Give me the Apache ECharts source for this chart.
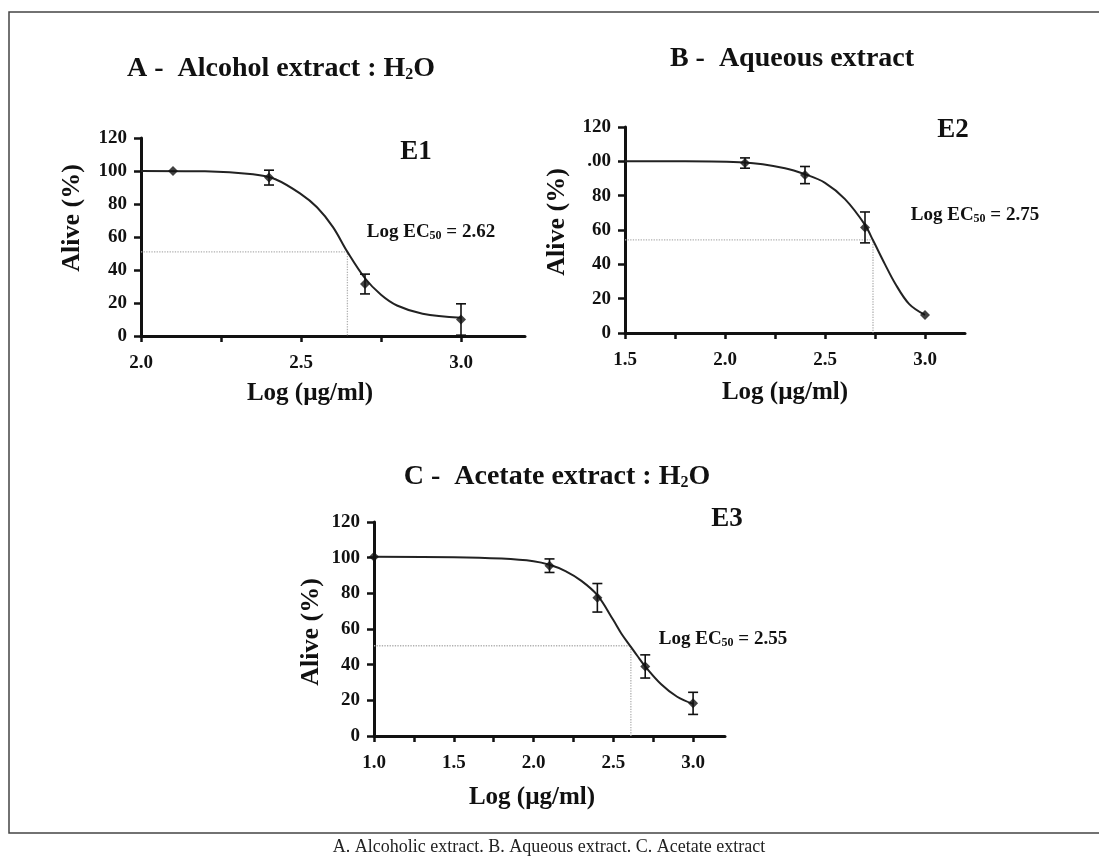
<!DOCTYPE html>
<html>
<head>
<meta charset="utf-8">
<script src="https://cdn.jsdelivr.net/npm/echarts@6/dist/echarts.min.js"></script>
<style>
  html, body { margin: 0; padding: 0; background: #fff; }
  #main { width: 1099px; height: 859px; }
</style>
</head>
<body>
<div id="main"></div>
<script>
// 数据
var xA = [2.1, 2.4, 2.7, 3.0];
var yA = [100, 96, 31.5, 10];
var errA = [0, 4.5, 6, 9.5];
var curveA = [[2.0, 100], [2.2, 99.8], [2.35, 98], [2.42, 95], [2.5, 86], [2.55, 78], [2.6, 66], [2.645, 51], [2.7, 35], [2.75, 25], [2.8, 18.5], [2.88, 13.5], [3.0, 11]];
var ec50A = [[2.0, 51], [2.645, 51], [2.645, 0]];

var xB = [2.1, 2.4, 2.7, 3.0];
var yB = [99, 92, 61.5, 10.5];
var errB = [3, 5, 9, 0];
var curveB = [[1.5, 100], [1.8, 100], [2.1, 99.3], [2.3, 96], [2.4, 92.5], [2.5, 87.5], [2.6, 78], [2.7, 63], [2.74, 54], [2.8, 40], [2.85, 29], [2.92, 17], [3.0, 10.5]];
var ec50B = [[1.5, 54.3], [2.74, 54.3], [2.74, 0]];

var xC = [1.0, 2.1, 2.4, 2.7, 3.0];
var yC = [100.5, 95.5, 77.5, 39, 18.3];
var errC = [0, 3.8, 8, 6.5, 6.2];
var curveC = [[1.0, 100.5], [1.5, 100.3], [1.8, 99.5], [2.0, 98], [2.1, 96], [2.2, 92.5], [2.3, 87], [2.4, 79], [2.5, 65], [2.55, 57.5], [2.61, 50], [2.65, 45], [2.7, 39], [2.8, 29], [2.9, 22], [3.0, 18]];
var ec50C = [[1.0, 50.6], [2.61, 50.6], [2.61, 0]];

// tick labels
var yTicks = [0, 20, 40, 60, 80, 100, 120];
var yLabelsB = ['0', '20', '40', '60', '80', '.00', '120'];
var xTicksA = [2.0, 2.25, 2.5, 2.75, 3.0];
var xLabelsA = [2.0, 2.5, 3.0];
var xTicksB = [1.5, 1.75, 2.0, 2.25, 2.5, 2.75, 3.0];
var xLabelsB = [1.5, 2.0, 2.5, 3.0];
var xTicksC = [1.0, 1.25, 1.5, 1.75, 2.0, 2.25, 2.5, 2.75, 3.0];
var xLabelsC = [1.0, 1.5, 2.0, 2.5, 3.0];

var serif = '"Liberation Serif", "DejaVu Serif", serif';

var myChart = echarts.init(document.getElementById('main'));

function mkX (idx, min, ticks, labels) {
  return {
    gridIndex: idx,
    type: 'value',
    min: min,
    max: 3.2,
    splitLine: { show: false },
    axisLine: { onZero: false, lineStyle: { color: '#111', width: 3 } },
    axisTick: { show: true, customValues: ticks, length: 6, lineStyle: { color: '#111', width: 2.5 } },
    axisLabel: {
      customValues: labels,
      formatter: function (v) { return v.toFixed(1) },
      color: '#111', fontFamily: serif, fontWeight: 'bold', fontSize: 19, margin: 18
    }
  }
}

function mkY (idx, names) {
  return {
    gridIndex: idx,
    type: 'value',
    min: 0,
    max: 120,
    interval: 20,
    splitLine: { show: false },
    axisLine: { show: true, lineStyle: { color: '#111', width: 3 } },
    axisTick: { show: true, length: 7, lineStyle: { color: '#111', width: 2.5 } },
    axisLabel: {
      formatter: function (v) {
        var i = yTicks.indexOf(v);
        return names ? names[i] : String(v)
      },
      color: '#111', fontFamily: serif, fontWeight: 'bold', fontSize: 19, margin: 14
    }
  }
}

function errData (xs, ys, errs) {
  var out = [];
  for (var i = 0; i < xs.length; i++) {
    if (errs[i] > 0) out.push([xs[i], ys[i] - errs[i], ys[i] + errs[i]]);
  }
  return out
}

function errSeries (idx, xs, ys, errs) {
  return {
    type: 'custom',
    xAxisIndex: idx,
    yAxisIndex: idx,
    data: errData(xs, ys, errs),
    encode: { x: 0, y: [1, 2] },
    z: 4,
    renderItem: function (params, api) {
      var lo = api.coord([api.value(0), api.value(1)]);
      var hi = api.coord([api.value(0), api.value(2)]);
      var w = 5;
      var st = { stroke: '#111', lineWidth: 1.6 };
      return {
        type: 'group',
        children: [
          { type: 'line', shape: { x1: lo[0], y1: lo[1], x2: hi[0], y2: hi[1] }, style: st },
          { type: 'line', shape: { x1: lo[0] - w, y1: lo[1], x2: lo[0] + w, y2: lo[1] }, style: st },
          { type: 'line', shape: { x1: hi[0] - w, y1: hi[1], x2: hi[0] + w, y2: hi[1] }, style: st }
        ]
      }
    }
  }
}

function panelSeries (idx, xs, ys, errs, curve, ec50) {
  var pts = xs.map(function (x, i) { return [x, ys[i]] });
  return [
    {
      type: 'line', xAxisIndex: idx, yAxisIndex: idx, data: ec50,
      symbol: 'none', z: 1,
      lineStyle: { color: '#b0b0b0', width: 1.3, type: 'dotted' }
    },
    {
      type: 'line', xAxisIndex: idx, yAxisIndex: idx, data: curve,
      symbol: 'none', smooth: 0.35, z: 3,
      lineStyle: { color: '#222', width: 2 }
    },
    errSeries(idx, xs, ys, errs),
    {
      type: 'scatter', xAxisIndex: idx, yAxisIndex: idx, data: pts,
      symbol: 'diamond', symbolSize: 10, z: 5,
      itemStyle: { color: '#111' }
    }
  ]
}

function txt (x, y, text, size, rot) {
  return {
    type: 'text', x: x, y: y, rotation: rot || 0,
    style: {
      text: text, x: 0, y: 0, align: 'center', verticalAlign: 'middle',
      font: 'bold ' + size + 'px ' + serif, fill: '#111'
    }
  }
}

function richTxt (x, y, text, size, subSize) {
  return {
    type: 'text', x: x, y: y,
    style: {
      text: text, x: 0, y: 0, align: 'center', verticalAlign: 'middle',
      fill: '#111',
      rich: {
        a: { fontFamily: serif, fontWeight: 'bold', fontSize: size, lineHeight: size + 4, verticalAlign: 'bottom', fill: '#111' },
        s: { fontFamily: serif, fontWeight: 'bold', fontSize: subSize, lineHeight: subSize - 2, verticalAlign: 'bottom', fill: '#111' }
      }
    }
  }
}

var option = {
  animation: false,
  backgroundColor: '#fff',
  grid: [
    { left: 141, top: 138, width: 384, height: 198 },
    { left: 625, top: 127, width: 340, height: 206 },
    { left: 374, top: 522, width: 351, height: 214 }
  ],
  xAxis: [
    mkX(0, 2.0, xTicksA, xLabelsA),
    mkX(1, 1.5, xTicksB, xLabelsB),
    mkX(2, 1.0, xTicksC, xLabelsC)
  ],
  yAxis: [mkY(0), mkY(1, yLabelsB), mkY(2)],
  series: [].concat(
    panelSeries(0, xA, yA, errA, curveA, ec50A),
    panelSeries(1, xB, yB, errB, curveB, ec50B),
    panelSeries(2, xC, yC, errC, curveC, ec50C)
  ),
  graphic: [
    // 外框
    {
      type: 'rect', z: -1,
      shape: { x: 9, y: 12, width: 1100, height: 821 },
      style: { fill: 'none', stroke: '#444', lineWidth: 1.5 }
    },
    richTxt(281, 67, '{a|A -  Alcohol extract : H}{s|2}{a|O}', 28, 16),
    richTxt(792, 57, '{a|B -  Aqueous extract}', 28, 16),
    richTxt(557, 475, '{a|C -  Acetate extract : H}{s|2}{a|O}', 28, 16),
    txt(416, 152, 'E1', 27),
    txt(953, 130, 'E2', 27),
    txt(727, 519, 'E3', 27),
    richTxt(431, 230, '{a|Log EC}{s|50}{a| = 2.62}', 19, 12),
    richTxt(975, 213, '{a|Log EC}{s|50}{a| = 2.75}', 19, 12),
    richTxt(723, 637, '{a|Log EC}{s|50}{a| = 2.55}', 19, 12),
    txt(72, 218, 'Alive (%)', 26, Math.PI / 2),
    txt(557, 222, 'Alive (%)', 26, Math.PI / 2),
    txt(311, 632, 'Alive (%)', 26, Math.PI / 2),
    txt(310, 394, 'Log (µg/ml)', 25),
    txt(785, 393, 'Log (µg/ml)', 25),
    txt(532, 798, 'Log (µg/ml)', 25),
    {
      type: 'text', x: 549, y: 847,
      style: {
        text: 'A. Alcoholic extract. B. Aqueous extract. C. Acetate extract',
        x: 0, y: 0, align: 'center', verticalAlign: 'middle',
        font: '18px ' + serif, fill: '#222'
      }
    }
  ]
};

myChart.setOption(option);
</script>
</body>
</html>
